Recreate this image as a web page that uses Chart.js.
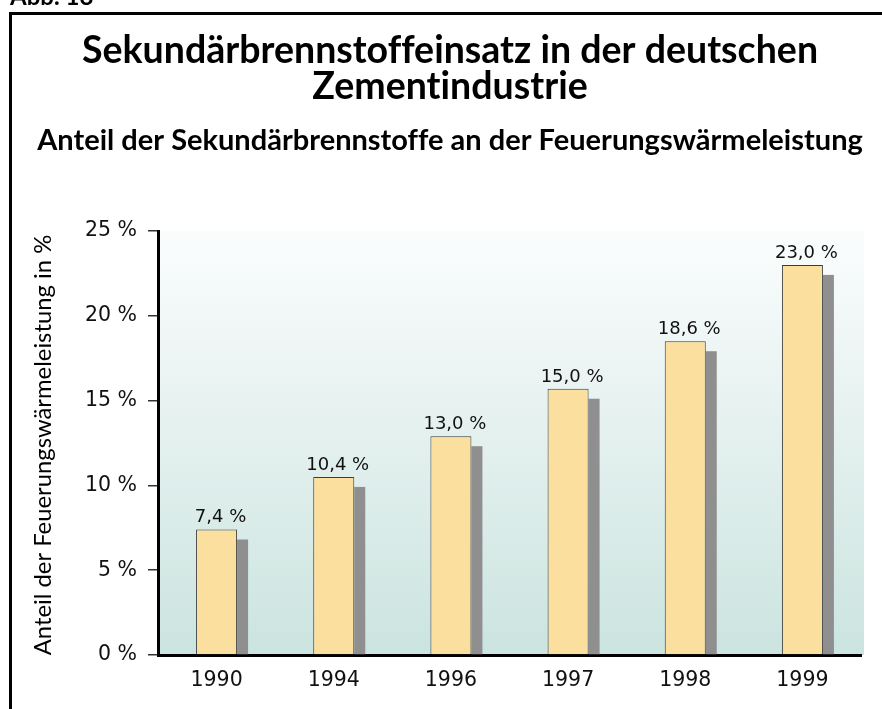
<!DOCTYPE html>
<html>
<head>
<meta charset="utf-8">
<script src="https://cdn.jsdelivr.net/npm/chart.js@4.4.1/dist/chart.umd.min.js"></script>
<style>
  html, body { margin: 0; padding: 0; background: #fff; }
  canvas { display: block; }
</style>
</head>
<body>
<canvas id="chartZement" width="882" height="709"></canvas>
<script>
// data
const years = ['1990', '1994', '1996', '1997', '1998', '1999'];
// bar heights as drawn
const shares = [7.4, 10.5, 12.9, 15.7, 18.5, 23.0];
// values printed above the bars
const printedShares = [7.4, 10.4, 13.0, 15.0, 18.6, 23.0];
const yTicks = [0, 5, 10, 15, 20, 25];

const titleLines = ['Sekundärbrennstoffeinsatz in der deutschen', 'Zementindustrie'];
const subTitle = 'Anteil der Sekundärbrennstoffe an der Feuerungswärmeleistung';
const yTitle = 'Anteil der Feuerungswärmeleistung in %';

const fmt = (v) => v.toFixed(1).replace('.', ',') + ' %';

// pick a font size so the text gets a given width
const fitFont = (ctx, text, weight, family, width) => {
    ctx.font = weight + ' 100px ' + family;
    const size = 100 * width / ctx.measureText(text).width;
    return weight + ' ' + size.toFixed(1) + 'px ' + family;
};

const frame = {
    id: 'frame',
    beforeDraw(chart) {
        const ctx = chart.ctx;
        const a = chart.chartArea;
        ctx.save();
        // plot background
        const g = ctx.createLinearGradient(0, a.top, 0, a.bottom);
        g.addColorStop(0, '#fbfdfd');
        g.addColorStop(0.5, '#e3f0ee');
        g.addColorStop(1, '#cbe4df');
        ctx.fillStyle = g;
        ctx.fillRect(a.left, a.top, a.right + 3 - a.left, a.bottom - a.top);
        // box
        ctx.strokeStyle = '#000';
        ctx.lineWidth = 3;
        ctx.beginPath();
        ctx.moveTo(10.5, chart.height + 2);
        ctx.lineTo(10.5, 13.5);
        ctx.lineTo(chart.width + 2, 13.5);
        ctx.stroke();
        // texts (small spacing keeps Lato from joining "ti")
        ctx.letterSpacing = '0.01px';
        ctx.fillStyle = '#000';
        ctx.textBaseline = 'alphabetic';
        ctx.textAlign = 'left';
        ctx.font = 'bold 24px Lato';
        ctx.fillText('Abb. 18', 10, 5);
        ctx.textAlign = 'center';
        ctx.font = fitFont(ctx, titleLines[0], 'bold', 'Lato', 735);
        ctx.fillText(titleLines[0], 450, 63);
        ctx.fillText(titleLines[1], 450, 99);
        ctx.font = fitFont(ctx, subTitle, 'bold', 'Lato', 824);
        ctx.fillText(subTitle, 450, 150);
        // y title
        ctx.translate(43, (a.top + a.bottom) / 2 + 2);
        ctx.rotate(-Math.PI / 2);
        ctx.textBaseline = 'middle';
        ctx.font = fitFont(ctx, yTitle, 'normal', 'Lato', 420);
        ctx.fillText(yTitle, 0, 0);
        ctx.restore();
    },
    beforeDatasetsDraw(chart) {
        // grey shadow behind each bar
        const ctx = chart.ctx;
        ctx.save();
        ctx.fillStyle = '#8f8f8f';
        chart.getDatasetMeta(0).data.forEach((bar) => {
            const x = bar.x + bar.width / 2;
            ctx.fillRect(x, bar.y + 10, 11, bar.base - bar.y - 10);
        });
        ctx.restore();
    },
    afterDatasetsDraw(chart) {
        const ctx = chart.ctx;
        ctx.save();
        ctx.fillStyle = '#111';
        ctx.font = '18px "DejaVu Sans"';
        ctx.textAlign = 'center';
        ctx.textBaseline = 'alphabetic';
        chart.getDatasetMeta(0).data.forEach((bar, i) => {
            ctx.fillText(fmt(printedShares[i]), bar.x + 4, bar.y - 7);
        });
        ctx.restore();
    }
};

const data = {
    labels: years,
    datasets: [{
        data: shares,
        backgroundColor: '#fbdf9e',
        borderColor: '#3a3a3a',
        borderWidth: 1,
        borderSkipped: 'bottom',
        categoryPercentage: 1,
        barPercentage: 0.35
    }]
};

const config = {
    type: 'bar',
    data: data,
    plugins: [frame],
    options: {
        responsive: false,
        animation: false,
        devicePixelRatio: 1,
        layout: { padding: { top: 231, left: 12, right: 21, bottom: 0 } },
        plugins: {
            legend: { display: false },
            tooltip: { enabled: false }
        },
        scales: {
            x: {
                grid: { drawOnChartArea: false, drawTicks: false, color: 'rgba(0,0,0,0)' },
                border: { display: true, color: '#000', width: 3 },
                ticks: {
                    color: '#111',
                    font: { family: 'DejaVu Sans', size: 20.5 },
                    padding: 13
                },
                afterFit: (scale) => { scale.height = 54; }
            },
            y: {
                min: 0,
                max: 25,
                afterBuildTicks: (scale) => {
                    scale.ticks = yTicks.map((v) => ({ value: v }));
                },
                grid: { drawOnChartArea: false, drawTicks: true, tickLength: 10, color: '#333', lineWidth: 1.5 },
                border: { display: true, color: '#000', width: 3 },
                ticks: {
                    color: '#111',
                    font: { family: 'DejaVu Sans', size: 20.5 },
                    padding: 11,
                    callback: (v) => v + ' %'
                },
                afterFit: (scale) => { scale.width = 146; }
            }
        }
    }
};

const chartZement = new Chart(
    document.getElementById('chartZement'),
    config
);
</script>
</body>
</html>
